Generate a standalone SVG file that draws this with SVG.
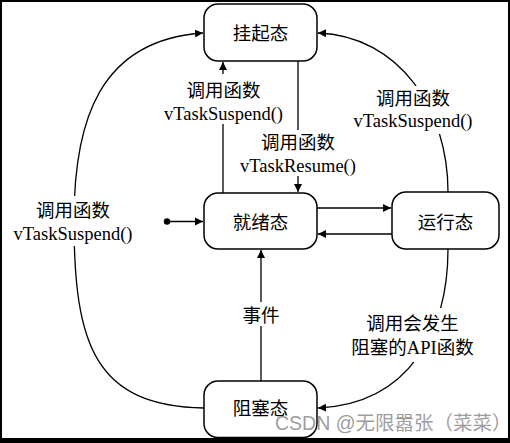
<svg xmlns="http://www.w3.org/2000/svg" width="510" height="443" viewBox="0 0 510 443">
<style>
.box{fill:#fff;stroke:#000;stroke-width:1.5}
.ln{fill:none;stroke:#000;stroke-width:1.3}
.t{font-family:"Liberation Serif","Noto Sans CJK SC",serif;font-size:18.5px;fill:#000;text-anchor:middle}
.bg{fill:#fff}
.wm{font-family:"Liberation Sans","Noto Sans CJK SC",sans-serif;font-size:19.5px;fill:#8a8a8a;fill-opacity:0.85}
</style>
<defs>
<marker id="ah" markerUnits="userSpaceOnUse" markerWidth="9" markerHeight="9" refX="8" refY="4" orient="auto" viewBox="0 0 9 8">
<path d="M0,0 L8,4 L0,8 z" fill="#000"/>
</marker>
</defs>
<rect x="0" y="0" width="510" height="443" fill="#fff"/>
<g id="connectors">
<path class="ln" d="M204,408 C95,406 74,345 74,220 C74,120 100,40 203,33" marker-end="url(#ah)"/>
<path class="ln" d="M448,192 C448,110 400,36 318,33" marker-end="url(#ah)"/>
<path class="ln" d="M448,249 C448,330 410,404 318,408" marker-end="url(#ah)"/>
<path class="ln" d="M223,193 L223,62" marker-end="url(#ah)"/>
<path class="ln" d="M298,61 L298,192" marker-end="url(#ah)"/>
<path class="ln" d="M261,381 L261,250" marker-end="url(#ah)"/>
<path class="ln" d="M317,208 L391,208" marker-end="url(#ah)"/>
<path class="ln" d="M392,234 L318,234" marker-end="url(#ah)"/>
<circle cx="167" cy="221.5" r="3.2" fill="#000"/>
<path class="ln" d="M167,221.5 L203,221.5" marker-end="url(#ah)"/>
<rect class="bg" x="164" y="74" width="120" height="50"/>
<text class="t" x="223.5" y="97">调用函数</text>
<text class="t" x="223.5" y="120">vTaskSuspend()</text>
<rect class="bg" x="240" y="130" width="116" height="46"/>
<text class="t" x="298" y="148.5">调用函数</text>
<text class="t" x="298" y="172">vTaskResume()</text>
<rect class="bg" x="352" y="86" width="122" height="48"/>
<text class="t" x="413" y="104.5">调用函数</text>
<text class="t" x="413" y="127">vTaskSuspend()</text>
<rect class="bg" x="10" y="196" width="126" height="50"/>
<text class="t" x="73" y="217">调用函数</text>
<text class="t" x="73" y="239.5">vTaskSuspend()</text>
<rect class="bg" x="243" y="302" width="36" height="24"/>
<text class="t" x="261" y="322">事件</text>
<rect class="bg" x="352" y="308" width="122" height="54"/>
<text class="t" x="412.5" y="330">调用会发生</text>
<text class="t" x="412.5" y="354">阻塞的API函数</text>
</g>
<g id="suspended">
<rect class="box" x="204" y="4" width="113" height="57" rx="14"/>
<text class="t" x="260.5" y="40">挂起态</text>
</g>
<g id="ready">
<rect class="box" x="204" y="193" width="113" height="56" rx="14"/>
<text class="t" x="260.5" y="228.5">就绪态</text>
</g>
<g id="running">
<rect class="box" x="392" y="192" width="107" height="57" rx="14"/>
<text class="t" x="445.5" y="228.5">运行态</text>
</g>
<g id="blocked">
<rect class="box" x="204" y="381" width="113" height="56.5" rx="14"/>
<text class="t" x="260.5" y="415">阻塞态</text>
</g>
<text class="wm" x="275" y="429.5">CSDN @无限嚣张（菜菜）</text>
<g id="frame" fill="#000">
<rect x="0" y="0" width="510" height="2"/>
<rect x="0" y="0" width="2" height="443"/>
<rect x="508" y="0" width="2" height="443"/>
<rect x="0" y="438" width="510" height="5"/>
</g>
</svg>
